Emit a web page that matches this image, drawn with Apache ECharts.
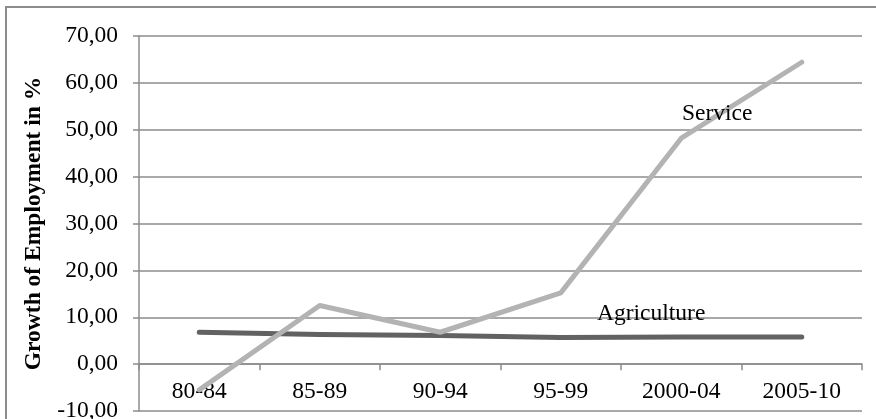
<!DOCTYPE html>
<html>
<head>
<meta charset="utf-8">
<script src="https://cdn.jsdelivr.net/npm/echarts@6/dist/echarts.min.js"></script>
<style>
html,body{margin:0;padding:0;background:#fff;}
#chart{width:876px;height:419px;}
</style>
</head>
<body>
<div id="chart"></div>
<script>
var categories = ['80-84', '85-89', '90-94', '95-99', '2000-04', '2005-10'];
var serviceValues = [-5.5, 12.5, 6.8, 15.2, 48.2, 64.4];
var agricultureValues = [6.8, 6.3, 6.1, 5.7, 5.8, 5.8];
var yTicks = { min: -10, max: 70, interval: 10 };
var yAxisTitle = 'Growth of Employment in %';

var FONT = '"Liberation Serif", "Times New Roman", serif';
var W = 876, H = 419;
var grid = { left: 139, right: 14, top: 36, bottom: 8 };
var plotH = H - grid.top - grid.bottom;
// place the category axis on the zero line of the value axis
var zeroOffset = -plotH * (0 - yTicks.min) / (yTicks.max - yTicks.min);

var chart = echarts.init(document.getElementById('chart'));
chart.setOption({
  animation: false,
  backgroundColor: '#fff',
  grid: { left: grid.left, right: grid.right, top: grid.top, bottom: grid.bottom, containLabel: false, outerBoundsMode: 'none' },
  xAxis: {
    type: 'category',
    data: categories,
    boundaryGap: true,
    position: 'bottom',
    offset: zeroOffset,
    axisLine: { show: true, onZero: false, lineStyle: { color: '#8c8c8c', width: 1.5 } },
    axisTick: { show: true, length: 6, inside: false, lineStyle: { color: '#8c8c8c', width: 1.5 } },
    axisLabel: { show: true, color: '#000', fontFamily: FONT, fontSize: 23.5, margin: 16 },
    splitLine: { show: false }
  },
  yAxis: {
    type: 'value',
    min: yTicks.min, max: yTicks.max, interval: yTicks.interval,
    name: yAxisTitle,
    nameLocation: 'middle',
    nameGap: 90,
    nameTextStyle: { color: '#000', fontFamily: FONT, fontSize: 23.5, fontWeight: 'bold' },
    axisLine: { show: true, lineStyle: { color: '#8c8c8c', width: 1.5 } },
    axisTick: { show: true, length: 6, lineStyle: { color: '#8c8c8c', width: 1.5 } },
    axisLabel: {
      color: '#000', fontFamily: FONT, fontSize: 23.5, margin: 21,
      formatter: function (v) { return v.toFixed(2).replace('.', ','); }
    },
    splitLine: { show: true, lineStyle: { color: '#8c8c8c', width: 1.5 } }
  },
  series: [
    {
      name: 'Service', type: 'line', data: serviceValues,
      symbol: 'none', smooth: false,
      lineStyle: { color: '#b3b3b3', width: 5, cap: 'round', join: 'round' },
      z: 3
    },
    {
      name: 'Agriculture', type: 'line', data: agricultureValues,
      symbol: 'none', smooth: false,
      lineStyle: { color: '#626262', width: 5, cap: 'round', join: 'round' },
      z: 2
    }
  ],
  graphic: [
    { type: 'polyline', shape: { points: [[6, 419], [6, 7], [876, 7]] }, style: { stroke: '#8c8c8c', lineWidth: 2, fill: null }, silent: true },
    { type: 'text', left: 718 - 36, top: 102, style: { text: 'Service', font: '23.5px ' + FONT, fill: '#000' }, z: 10 },
    { type: 'text', left: 652 - 55, top: 302, style: { text: 'Agriculture', font: '23.5px ' + FONT, fill: '#000' }, z: 10 }
  ]
});
</script>
</body>
</html>
